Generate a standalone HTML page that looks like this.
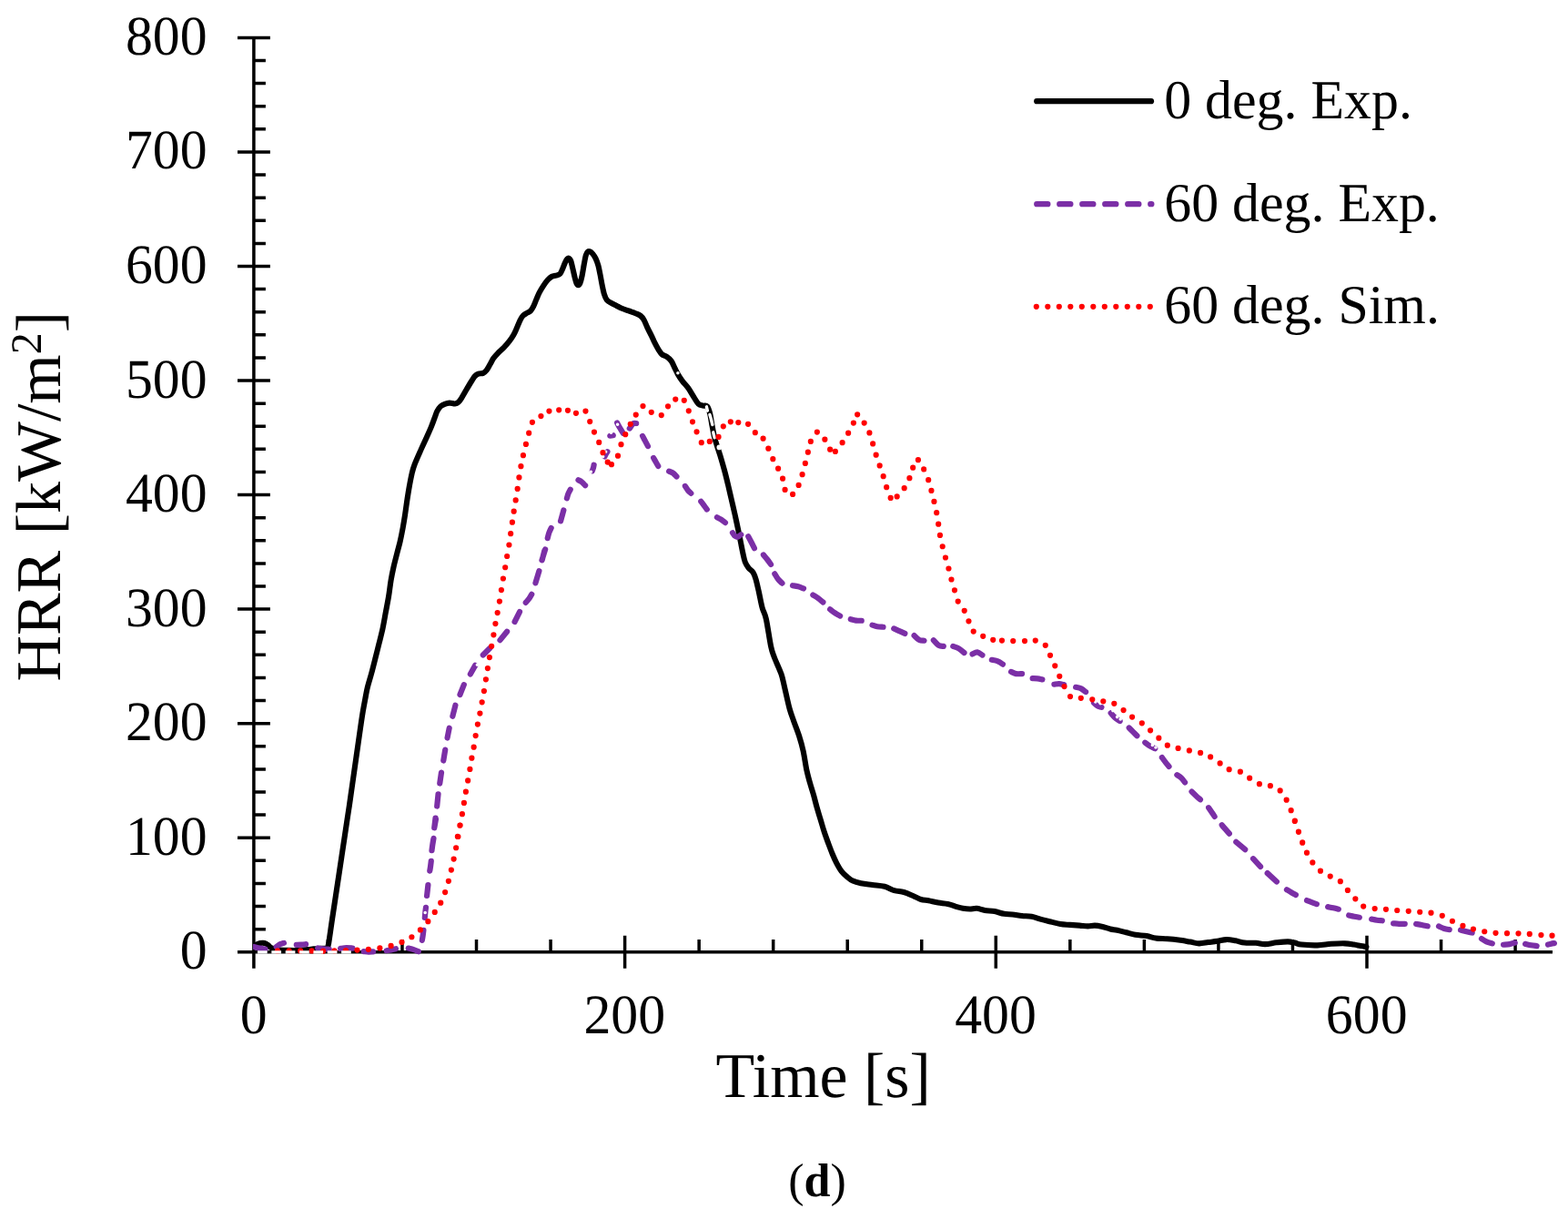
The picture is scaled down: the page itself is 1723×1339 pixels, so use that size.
<!DOCTYPE html>
<html lang="en">
<head>
<meta charset="utf-8">
<title>HRR vs Time (d)</title>
<style>
html,body{margin:0;padding:0;background:#fff;}
body{width:1723px;height:1339px;overflow:hidden;}
svg{display:block;}
text{font-family:"Liberation Serif","DejaVu Serif",serif;fill:#000;text-rendering:geometricPrecision;}
.tick{font-size:61.4px;}
.title{font-size:70px;}
.leg{font-size:60.6px;}
.cap{font-size:52px;}
</style>
</head>
<body>
<svg width="1723" height="1339" viewBox="0 0 1723 1339">
<rect x="0" y="0" width="1723" height="1339" fill="#fff"/>
<g id="axes" fill="none" stroke="#000" stroke-width="3.5" stroke-linecap="butt">
<path d="M278.9 41.4 V1063.8M261 1045.75 H1706M278.9 1020.64 H291.9M278.9 995.53 H291.9M278.9 970.42 H291.9M278.9 945.32 H291.9M261 920.21 H296.9M278.9 895.1 H291.9M278.9 869.99 H291.9M278.9 844.88 H291.9M278.9 819.77 H291.9M261 794.66 H296.9M278.9 769.55 H291.9M278.9 744.44 H291.9M278.9 719.34 H291.9M278.9 694.23 H291.9M261 669.12 H296.9M278.9 644.01 H291.9M278.9 618.9 H291.9M278.9 593.79 H291.9M278.9 568.68 H291.9M261 543.58 H296.9M278.9 518.47 H291.9M278.9 493.36 H291.9M278.9 468.25 H291.9M278.9 443.14 H291.9M261 418.03 H296.9M278.9 392.92 H291.9M278.9 367.81 H291.9M278.9 342.71 H291.9M278.9 317.6 H291.9M261 292.49 H296.9M278.9 267.38 H291.9M278.9 242.27 H291.9M278.9 217.16 H291.9M278.9 192.05 H291.9M261 166.94 H296.9M278.9 141.84 H291.9M278.9 116.73 H291.9M278.9 91.62 H291.9M278.9 66.51 H291.9M261 41.4 H296.9M360.44 1032.1 V1045.75M441.98 1032.1 V1045.75M523.52 1032.1 V1045.75M605.06 1032.1 V1045.75M686.6 1027.8 V1063.8M768.14 1032.1 V1045.75M849.68 1032.1 V1045.75M931.22 1032.1 V1045.75M1012.76 1032.1 V1045.75M1094.3 1027.8 V1063.8M1175.84 1032.1 V1045.75M1257.38 1032.1 V1045.75M1338.92 1032.1 V1045.75M1420.46 1032.1 V1045.75M1502 1027.8 V1063.8M1583.54 1032.1 V1045.75M1665.08 1032.1 V1045.75"/>
</g>
<g id="ylabels" class="tick" text-anchor="end">
<text transform="translate(227.6 1064.25) scale(.974 1)">0</text>
<text transform="translate(227.6 938.71) scale(.974 1)">100</text>
<text transform="translate(227.6 813.16) scale(.974 1)">200</text>
<text transform="translate(227.6 687.62) scale(.974 1)">300</text>
<text transform="translate(227.6 562.08) scale(.974 1)">400</text>
<text transform="translate(227.6 436.53) scale(.974 1)">500</text>
<text transform="translate(227.6 310.99) scale(.974 1)">600</text>
<text transform="translate(227.6 185.44) scale(.974 1)">700</text>
<text transform="translate(227.6 59.9) scale(.974 1)">800</text>
</g>
<g id="xlabels" class="tick" text-anchor="middle">
<text transform="translate(278.6 1134.7) scale(.974 1)">0</text>
<text transform="translate(686.3 1134.7) scale(.974 1)">200</text>
<text transform="translate(1094 1134.7) scale(.974 1)">400</text>
<text transform="translate(1501.7 1134.7) scale(.974 1)">600</text>
</g>
<text class="title" text-anchor="middle" transform="translate(904.7 1204.5) scale(.998 1)">Time [s]</text>
<text class="title" transform="translate(66.3 748.6) rotate(-90) scale(.999 1)">HRR [kW/m<tspan font-size="48px" dy="-21">2</tspan><tspan dy="21">]</tspan></text>
<text class="cap" text-anchor="middle" x="898" y="1313.9">(<tspan font-weight="bold">d</tspan>)</text>
<clipPath id="plot"><rect x="277.9" y="0" width="1445.1" height="1339"/></clipPath>
<g id="series" fill="none" stroke-linecap="round" stroke-linejoin="round" clip-path="url(#plot)">
<path id="s-black" stroke="#000" stroke-width="6.1" d="M279.32 1039.5C279.87 1039.12 281.53 1037.81 282.63 1037.23C283.74 1036.65 284.9 1036.28 285.95 1036.02C287.01 1035.77 287.97 1035.65 288.97 1035.72C289.98 1035.8 290.98 1036.02 291.99 1036.48C293 1036.93 294.05 1037.68 295.01 1038.44C295.96 1039.19 296.01 1040.2 297.72 1041C299.44 1041.81 302 1042.79 305.27 1043.27C308.54 1043.75 313.57 1043.77 317.34 1043.87C321.11 1043.97 324.38 1044 327.9 1043.87C331.43 1043.75 335.7 1043.37 338.47 1043.12C341.23 1042.87 342.24 1042.56 344.5 1042.36C346.77 1042.16 349.79 1042.04 352.05 1041.91C354.31 1041.78 356.83 1041.73 358.08 1041.61C359.34 1041.48 359.09 1042.06 359.59 1041.15C360.1 1040.25 360.24 1041.28 361.13 1036.17C362.01 1031.06 363.64 1018.94 364.9 1010.52C366.16 1002.09 367.41 993.92 368.67 985.62C369.93 977.32 371.06 969.9 372.44 960.72C373.83 951.54 375.46 940.6 376.97 930.54C378.48 920.48 380.36 907.92 381.5 900.36C382.64 892.8 383.01 890.62 383.82 885.17C384.62 879.72 385.48 873.5 386.32 867.66C387.15 861.82 387.99 855.99 388.82 850.15C389.65 844.31 390.49 838.47 391.32 832.64C392.15 826.8 392.99 820.96 393.82 815.13C394.66 809.29 395.49 803.25 396.32 797.62C397.16 791.99 397.99 786.36 398.82 781.36C399.66 776.36 400.49 771.98 401.33 767.6C402.16 763.22 402.7 759.68 403.83 755.09C404.95 750.51 406.62 745.5 408.08 740.08C409.54 734.66 411.21 727.99 412.58 722.57C413.96 717.15 415 712.99 416.34 707.57C417.67 702.15 419.34 695.89 420.59 690.06C421.84 684.22 422.76 678.38 423.84 672.55C424.92 666.71 426.13 660.87 427.09 655.03C428.05 649.2 428.68 642.94 429.59 637.52C430.51 632.1 431.47 627.52 432.59 622.52C433.72 617.51 435.18 612.09 436.35 607.51C437.51 602.92 438.56 599.55 439.6 595C440.64 590.45 441.68 585.16 442.6 580.19C443.52 575.22 444.27 570.6 445.1 565.18C445.94 559.76 446.77 553.09 447.6 547.67C448.44 542.25 449.27 537.24 450.1 532.66C450.94 528.07 451.69 523.9 452.61 520.15C453.52 516.4 453.94 514.52 455.61 510.15C457.28 505.77 460.4 498.89 462.61 493.89C464.82 488.88 466.99 484.3 468.87 480.13C470.74 475.96 472.41 472.42 473.87 468.87C475.33 465.33 476.54 461.74 477.62 458.87C478.7 455.99 479.28 453.73 480.37 451.64C481.46 449.56 482.76 447.67 484.14 446.36C485.53 445.05 487.04 444.42 488.67 443.8C490.31 443.17 492.07 442.64 493.95 442.59C495.84 442.54 498.35 443.62 499.99 443.49C501.62 443.37 502.5 442.99 503.76 441.83C505.02 440.68 506.02 438.94 507.53 436.55C509.04 434.16 511.05 430.47 512.81 427.5C514.58 424.53 516.59 421.14 518.1 418.75C519.61 416.36 520.61 414.52 521.87 413.16C523.13 411.8 524.13 411.15 525.64 410.6C527.15 410.04 529.41 410.5 530.92 409.84C532.43 409.19 533.44 408.26 534.7 406.67C535.95 405.09 537.21 402.52 538.47 400.34C539.73 398.15 540.86 395.56 542.24 393.55C543.62 391.53 544.88 390.2 546.77 388.26C548.65 386.33 551.42 384.14 553.56 381.93C555.7 379.71 557.83 377.25 559.59 374.99C561.35 372.72 562.74 370.79 564.12 368.35C565.5 365.91 566.69 363.06 567.89 360.35C569.1 357.63 570.23 354.31 571.36 352.05C572.5 349.79 573.38 348.15 574.68 346.77C575.99 345.38 577.83 344.63 579.21 343.75C580.59 342.87 581.85 342.62 582.98 341.49C584.11 340.35 584.92 339.1 586 336.96C587.08 334.82 588.34 331.3 589.47 328.66C590.6 326.02 591.48 323.63 592.79 321.11C594.1 318.6 595.81 315.83 597.32 313.57C598.83 311.31 600.34 309.17 601.85 307.53C603.35 305.9 604.86 304.57 606.37 303.76C607.88 302.96 609.39 303.21 610.9 302.7C612.41 302.2 614.17 302.08 615.43 300.74C616.68 299.41 617.49 296.84 618.44 294.71C619.4 292.57 620.36 289.63 621.16 287.92C621.97 286.21 622.59 285.12 623.27 284.45C623.95 283.77 624.58 283.52 625.24 283.84C625.89 284.17 626.52 284.6 627.2 286.41C627.88 288.22 628.58 291.69 629.31 294.71C630.04 297.72 630.87 301.75 631.57 304.52C632.28 307.28 632.91 309.87 633.53 311.31C634.16 312.74 634.72 313.12 635.35 313.12C635.97 313.12 636.6 312.99 637.31 311.31C638.01 309.62 638.82 306.53 639.57 303.01C640.33 299.49 641.13 293.95 641.83 290.18C642.54 286.41 643.12 282.63 643.8 280.37C644.47 278.11 645.15 277.28 645.91 276.6C646.66 275.92 647.42 275.92 648.32 276.3C649.23 276.67 650.28 277.55 651.34 278.86C652.4 280.17 653.65 282.01 654.66 284.14C655.67 286.28 656.57 288.8 657.38 291.69C658.18 294.58 658.76 297.85 659.49 301.5C660.22 305.14 661 309.92 661.75 313.57C662.51 317.22 663.19 320.74 664.02 323.38C664.85 326.02 665.53 327.85 666.73 329.41C667.94 330.97 669.5 331.68 671.26 332.73C673.02 333.79 675.28 334.75 677.3 335.75C679.31 336.76 681.07 337.81 683.33 338.77C685.59 339.73 688.36 340.58 690.88 341.49C693.39 342.39 696.28 343.32 698.42 344.2C700.56 345.08 702.19 345.59 703.7 346.77C705.21 347.95 706.22 349.16 707.48 351.29C708.73 353.43 709.86 356.7 711.25 359.59C712.63 362.49 714.52 366.07 715.77 368.65C717.03 371.23 717.43 372.45 718.76 375.07C720.09 377.68 722.3 381.95 723.76 384.32C725.22 386.7 726.06 388.07 727.52 389.33C728.98 390.58 730.85 390.66 732.52 391.83C734.19 392.99 736.06 394.33 737.52 396.33C738.98 398.33 740.02 401.33 741.27 403.83C742.52 406.34 743.57 408.84 745.03 411.34C746.49 413.84 748.15 416.34 750.03 418.84C751.91 421.34 754.2 423.43 756.28 426.35C758.37 429.27 760.66 433.43 762.54 436.35C764.41 439.27 765.87 442.31 767.54 443.86C769.21 445.4 770.96 445.19 772.54 445.61C774.13 446.02 775.79 444.98 777.04 446.36C778.3 447.73 779.13 450.32 780.05 453.86C780.96 457.41 781.71 463.24 782.55 467.62C783.38 472 784.13 476.38 785.05 480.13C785.97 483.88 787.01 486.8 788.05 490.13C789.09 493.47 789.93 495.55 791.3 500.14C792.68 504.73 794.85 512.23 796.31 517.65C797.77 523.07 798.81 527.45 800.06 532.66C801.31 537.87 802.56 543.5 803.81 548.92C805.06 554.34 806.31 559.55 807.56 565.18C808.81 570.81 810.27 577.72 811.31 582.69C812.36 587.66 812.98 590.86 813.82 595C814.65 599.14 815.48 603.76 816.32 607.51C817.15 611.26 817.78 614.8 818.82 617.51C819.86 620.22 821.11 621.89 822.57 623.77C824.03 625.64 826.24 626.69 827.57 628.77C828.91 630.85 829.53 632.73 830.58 636.27C831.62 639.82 832.66 644.82 833.83 650.03C835 655.24 836.24 662.55 837.58 667.54C838.92 672.54 840.27 672.89 841.87 680C843.46 687.11 845.64 703.14 847.15 710.18C848.66 717.22 849.04 717.22 850.92 722.25C852.81 727.28 856.58 734.83 858.47 740.36C860.35 745.89 860.73 749.16 862.24 755.45C863.75 761.74 865.89 772.05 867.52 778.08C869.16 784.12 870.29 786.64 872.05 791.67C873.81 796.7 876.32 802.73 878.08 808.26C879.85 813.8 881.23 818.58 882.61 824.86C883.99 831.15 885.15 840.13 886.38 845.99C887.62 851.85 888.75 855.42 890.03 860C891.3 864.58 892.79 868.96 894.06 873.44C895.33 877.93 896.37 882.41 897.64 886.89C898.91 891.37 900.33 895.85 901.68 900.33C903.02 904.81 904.29 909.45 905.71 913.78C907.13 918.11 908.7 922.29 910.19 926.33C911.69 930.36 913.18 934.39 914.67 937.98C916.17 941.56 917.51 944.7 919.15 947.84C920.8 950.97 922.59 954.26 924.53 956.8C926.47 959.34 928.72 961.28 930.81 963.07C932.9 964.87 934.54 966.36 937.08 967.55C939.62 968.75 942.46 969.5 946.04 970.24C949.63 970.99 954.26 971.44 958.59 972.04C962.92 972.63 968.03 972.81 972.04 973.83C976.04 974.85 979.11 977.14 982.63 978.17C986.16 979.19 989.68 978.97 993.2 979.98C996.72 980.98 1000.62 982.87 1003.76 984.2C1006.9 985.53 1009.29 987.12 1012.06 987.97C1014.83 988.83 1017.22 988.73 1020.36 989.33C1023.5 989.94 1027.4 990.99 1030.92 991.6C1034.44 992.2 1038.22 992.25 1041.49 992.95C1044.76 993.66 1047.77 995.02 1050.54 995.82C1053.31 996.63 1055.57 997.33 1058.08 997.78C1060.6 998.24 1063.11 998.54 1065.63 998.54C1068.14 998.54 1070.41 997.56 1073.17 997.78C1075.94 998.01 1078.96 999.34 1082.23 999.9C1085.5 1000.45 1089.27 1000.45 1092.79 1001.1C1096.31 1001.76 1100.09 1003.27 1103.35 1003.82C1106.62 1004.37 1109.14 1004.07 1112.41 1004.42C1115.68 1004.77 1119.45 1005.53 1122.97 1005.93C1126.49 1006.33 1130.01 1006.18 1133.53 1006.84C1137.06 1007.49 1140.58 1008.92 1144.1 1009.85C1147.62 1010.79 1151.14 1011.57 1154.66 1012.42C1158.18 1013.28 1161.7 1014.41 1165.22 1014.99C1168.74 1015.56 1172.27 1015.61 1175.79 1015.89C1179.31 1016.17 1183.08 1016.39 1186.35 1016.65C1189.62 1016.9 1192.64 1017.4 1195.4 1017.4C1198.17 1017.4 1200.43 1016.6 1202.95 1016.65C1205.46 1016.7 1207.65 1017.07 1210.49 1017.7C1213.34 1018.33 1217.16 1019.73 1220 1020.42C1222.84 1021.1 1224.63 1021.17 1227.56 1021.82C1230.48 1022.47 1234.23 1023.49 1237.56 1024.32C1240.9 1025.16 1243.82 1026.2 1247.57 1026.82C1251.32 1027.45 1256.32 1027.45 1260.08 1028.07C1263.83 1028.7 1266.33 1030.03 1270.08 1030.58C1273.83 1031.12 1278.42 1030.99 1282.59 1031.33C1286.76 1031.66 1290.93 1032.04 1295.1 1032.58C1299.27 1033.12 1303.85 1033.95 1307.6 1034.58C1311.36 1035.2 1314.27 1036.25 1317.61 1036.33C1320.94 1036.41 1324.28 1035.5 1327.61 1035.08C1330.95 1034.66 1334.29 1034.33 1337.62 1033.83C1340.96 1033.33 1344.29 1032.16 1347.63 1032.08C1350.96 1031.99 1354.3 1032.74 1357.63 1033.33C1360.97 1033.91 1363.89 1035.16 1367.64 1035.58C1371.39 1036 1376.39 1035.58 1380.15 1035.83C1383.9 1036.08 1386.4 1037.16 1390.15 1037.08C1393.9 1037 1398.49 1035.79 1402.66 1035.33C1406.83 1034.87 1411.83 1034.29 1415.17 1034.33C1418.5 1034.37 1420.17 1035.04 1422.67 1035.58C1425.17 1036.12 1426.01 1037.12 1430.17 1037.58C1434.34 1038.04 1442.26 1038.46 1447.68 1038.33C1453.1 1038.21 1457.69 1037.16 1462.69 1036.83C1467.7 1036.5 1473.53 1036.2 1477.7 1036.33C1481.87 1036.45 1484.79 1037.12 1487.71 1037.58C1490.63 1038.04 1492.92 1038.66 1495.21 1039.08C1497.51 1039.5 1500.42 1039.91 1501.47 1040.08"/>
<path id="s-purple" stroke="#7b2fa6" stroke-width="6.2" d="M279.28 1040.02C280.34 1040.28 283.61 1041.17 285.65 1041.61C287.7 1042.05 290.57 1042.48 291.56 1042.66M303.74 1040.04C304.45 1039.54 306.62 1037.78 307.99 1037.08C309.35 1036.38 311.29 1036.05 311.96 1035.84M325.79 1037.94C326.64 1037.9 329.21 1037.81 330.92 1037.68C332.64 1037.56 335.21 1037.26 336.06 1037.17M349.17 1041.42C350.15 1041.56 352.98 1041.99 355.07 1042.21C357.16 1042.43 360.61 1042.65 361.71 1042.74M374.07 1041.94C375.17 1041.78 378.5 1041.07 380.72 1041C382.94 1040.94 386.26 1041.45 387.37 1041.54M399.73 1045.15C400.58 1045.21 403.15 1045.49 404.86 1045.53C406.58 1045.57 409.14 1045.42 410 1045.4M424.62 1044.19C425.47 1044.06 428.04 1043.74 429.76 1043.42C431.48 1043.1 434.06 1042.45 434.92 1042.26M448.74 1041.54C449.73 1041.8 452.81 1042.51 454.66 1043.12C456.51 1043.73 458.99 1044.85 459.86 1045.2M463.85 1032.87C464.01 1031.89 464.51 1028.81 464.77 1026.97C465.03 1025.13 465.31 1022.68 465.41 1021.83M466.81 1007.97C466.9 1006.98 467.14 1003.91 467.34 1002.07C467.53 1000.23 467.87 997.79 467.98 996.93M469.09 984C469.2 983.01 469.52 980.02 469.74 978.05C469.96 976.08 470.28 973.16 470.39 972.19M472.26 956.64C472.4 955.75 472.87 953.07 473.12 951.28C473.37 949.49 473.65 946.81 473.76 945.92M474.49 934.13C474.63 933.03 475.04 929.72 475.37 927.52C475.7 925.31 476.29 922 476.47 920.9M477.28 909.12C477.42 908.35 477.84 906.08 478.12 904.5C478.4 902.92 478.83 900.45 478.97 899.64M478.51 898.57 L477.23 909.29M481.53 872.31 L480.21 885.52M485 848.54 L483.25 860.51M489.23 823.52 L487.27 835.5M493.7 799.75 L491.56 810.49M500.41 774.73 L497.35 786.74M509.81 752.18 L505.47 763.01M522.21 730.87 L516.83 740.55M538.27 711.95 L530.79 719.44M557.1 693.76 L549.48 703.12M571.02 672.1 L565.57 683M584.23 652.81C583.76 653.6 582.51 656.03 581.43 657.54C580.35 659.04 578.37 661.13 577.76 661.85M592.43 627.13 L588.44 640.41M599.18 603.36 L595.45 615.4M595.68 615.3 L598.26 604.97M601.73 591.16C601.99 590.17 602.65 587.09 603.31 585.24C603.96 583.38 605.26 580.89 605.66 580.02M616.07 572.3 L619.36 560.45M622.89 547.4C623.17 546.49 623.94 543.54 624.59 541.93C625.23 540.32 626.38 538.44 626.74 537.75M635.48 527.28C636.1 527.63 637.95 528.4 639.22 529.4C640.49 530.4 642.46 532.64 643.11 533.29M650.82 517.23C651.03 516.62 651.75 514.65 652.05 513.56C652.35 512.46 652.53 511.15 652.63 510.67M664.51 501.43C664.75 500.94 665.45 499.34 665.93 498.47C666.41 497.6 667.16 496.58 667.4 496.2M670.29 478.72 L673.79 478.22M678.14 464.55C678.69 465.55 680.37 468.67 681.47 470.55C682.58 472.43 684.22 474.95 684.77 475.82M691.82 470.59C692.49 469.7 694.59 466.2 695.81 465.27C697.03 464.34 698.58 465.07 699.14 465.03M706.04 478.89C706.55 479.84 708.1 482.71 709.09 484.59C710.08 486.46 711.51 489.2 711.99 490.13M718.14 503.02C718.57 503.77 719.85 506.02 720.71 507.52C721.57 509.02 722.85 511.27 723.28 512.02M735.12 517.68C735.86 518 738.18 518.63 739.57 519.59C740.96 520.56 742.81 522.84 743.46 523.48M752.89 533.93C753.39 534.68 754.8 537.13 755.87 538.46C756.94 539.78 758.73 541.32 759.31 541.89M770.29 550.79C770.83 551.5 772.44 553.59 773.52 555.06C774.6 556.52 776.23 558.85 776.77 559.6M787.9 568.29C788.65 568.68 790.88 569.63 792.39 570.6C793.89 571.57 796.19 573.53 796.95 574.12M804.98 585.21C805.4 585.8 806.56 587.95 807.48 588.71C808.39 589.46 809.36 590.01 810.49 589.76C811.63 589.52 813.64 587.66 814.27 587.24M822.25 589.29C822.8 590.32 824.46 593.35 825.57 595.5C826.69 597.65 828.36 601.08 828.92 602.2M838.9 609.45C839.6 610.3 841.72 612.75 843.08 614.51C844.44 616.28 846.4 619.11 847.06 620.03M851.32 630.28C851.95 631.28 853.73 634.55 855.09 636.27C856.45 638 858.73 639.91 859.46 640.64M870.98 643.19C872 643.37 875.1 643.73 877.1 644.28C879.11 644.83 882.03 646.1 883.01 646.47M893.37 653.52C894.29 654.11 897.02 655.71 898.87 657.04C900.71 658.36 903.49 660.74 904.42 661.48M912.1 669.32C913.02 669.98 915.79 672.08 917.63 673.3C919.46 674.51 922.19 676.04 923.11 676.58M934.76 680.24C935.74 680.46 938.64 681.3 940.64 681.55C942.64 681.8 945.73 681.73 946.74 681.77M958.51 686.58C959.41 686.87 961.9 687.94 963.9 688.3C965.9 688.67 969.41 688.67 970.51 688.74M982.24 690.42C983.22 690.86 986.15 692.14 988.17 693.06C990.19 693.98 993.32 695.45 994.36 695.93M1004.6 698.15C1005.53 698.97 1008.36 702.14 1010.18 703.06C1012 703.99 1014.65 703.6 1015.54 703.71M1025.83 703.2C1026.76 704.14 1029.61 707.7 1031.44 708.82C1033.27 709.93 1035.92 709.71 1036.81 709.89M1047.29 709.9C1048.4 710.35 1051.92 711.38 1053.96 712.57C1055.99 713.75 1058.58 716.27 1059.51 717.01M1068.55 718.49C1069.45 718.13 1072.15 716.13 1073.97 716.32C1075.78 716.51 1078.54 719.06 1079.45 719.61M1089.85 724.78C1090.96 725.04 1094.46 725.52 1096.48 726.33C1098.5 727.13 1101.05 729.07 1101.96 729.62M1111.07 737.92C1111.98 738.28 1114.49 739.72 1116.49 740.08C1118.5 740.45 1122 740.08 1123.1 740.08M1134.65 745.12C1135.54 745.16 1138.22 745.12 1140.01 745.34C1141.79 745.55 1144.48 746.23 1145.38 746.41M1158.41 751.73C1159.3 751.63 1161.98 751.02 1163.77 751.09C1165.56 751.16 1168.25 751.99 1169.14 752.16M1182.15 754.82C1183.13 755.07 1186.22 755.47 1188.03 756.34C1189.85 757.22 1192.23 759.44 1193.06 760.06M1201.98 771.94C1202.7 772.55 1204.88 774.79 1206.29 775.61C1207.7 776.42 1209.75 776.64 1210.44 776.85M1220.66 783.28C1221.39 784.08 1223.4 786.64 1225.06 788.11C1226.71 789.58 1229.66 791.43 1230.58 792.09M1240.7 799.5C1241.43 800.23 1243.61 802.42 1245.07 803.87C1246.52 805.33 1248.71 807.51 1249.43 808.24M1258.3 815.65C1259.23 816.32 1262 818.53 1263.83 819.63C1265.66 820.73 1268.36 821.81 1269.27 822.24M1276.87 832.11C1277.49 832.95 1279.31 835.5 1280.59 837.14C1281.86 838.78 1283.86 841.15 1284.52 841.95M1293.34 851.16C1294.13 851.7 1296.65 853.02 1298.1 854.4C1299.55 855.78 1301.39 858.6 1302.05 859.45M1309.51 869.53C1310.27 870.26 1312.53 872.45 1314.11 873.91C1315.68 875.38 1318.14 877.58 1318.94 878.31M1328.12 887.16C1328.66 887.96 1330.28 890.3 1331.37 891.92C1332.45 893.55 1334.08 896.09 1334.63 896.92M1343.23 907.1C1343.88 907.82 1345.86 909.99 1347.13 911.43C1348.39 912.88 1350.18 915.03 1350.8 915.75M1342.71 906.19 L1350.79 915.58M1358.32 924.84 L1368.2 933.19M1377 943.19 L1385.04 951.87M1392.7 959.16 L1402.9 968.5M1413.93 977.25C1414.76 977.75 1417.26 979.28 1418.92 980.24C1420.58 981.21 1423.06 982.59 1423.89 983.06M1436.07 989.03C1436.95 989.39 1439.58 990.49 1441.38 991.19C1443.18 991.88 1445.95 992.85 1446.87 993.18M1459.15 996.16C1460.13 996.36 1463.04 996.91 1464.99 997.33C1466.94 997.75 1469.86 998.44 1470.83 998.67M1482.18 1005.4C1483.16 1005.62 1486.08 1006.35 1488.03 1006.74C1489.97 1007.13 1492.89 1007.57 1493.86 1007.74M1507.15 1009.6C1508.12 1009.8 1511.04 1010.49 1512.98 1010.77C1514.93 1011.05 1517.83 1011.18 1518.8 1011.27M1531.16 1014.3C1532.19 1014.38 1535.26 1014.72 1537.36 1014.8C1539.46 1014.88 1542.69 1014.8 1543.76 1014.8M1556.1 1014.94C1557.14 1015.11 1560.21 1015.56 1562.32 1015.95C1564.42 1016.34 1567.66 1017.08 1568.73 1017.3M1581 1017.46C1581.98 1017.88 1584.94 1019.37 1586.89 1019.98C1588.85 1020.6 1591.76 1020.96 1592.73 1021.15M1605.04 1021.56C1606.11 1021.84 1609.36 1022.74 1611.46 1023.25C1613.57 1023.75 1616.65 1024.37 1617.69 1024.59M1627.97 1031.02C1628.87 1031.58 1631.38 1033.48 1633.35 1034.38C1635.32 1035.28 1638.71 1036.07 1639.79 1036.41M1652.1 1037.75C1653.23 1037.63 1656.78 1037.43 1658.88 1037.07C1660.99 1036.7 1663.75 1035.82 1664.73 1035.56M1676.08 1036.87C1677.15 1037.09 1680.39 1037.85 1682.49 1038.22C1684.6 1038.58 1687.67 1038.92 1688.7 1039.06M1701.02 1037.6C1701.58 1037.45 1703.23 1036.94 1704.38 1036.68C1705.53 1036.43 1707.32 1036.17 1707.91 1036.07"/>
<path id="s-white" stroke="#fff" stroke-width="3.4" d="M776.4 446.8 L777.4 451.2M779.9 455.5C780.17 456.42 781 459.17 781.5 461C782 462.83 782.67 465.58 782.9 466.5M783.7 474.8 L785.2 480.8"/>
<path id="s-white-dots" stroke="#fff" stroke-width="3.6" d="M649.3 518.2h0M662.6 501.6h0M665.6 496.2h0M671.5 475.2h0M678.6 466.2h0M1203.8 770.9h0M1209.2 772.8h0M1222.9 780.6h0M1227.6 787.6h0M1231.2 789.9h0M1266.4 818.4h0M1270 821h0M467.2 1002.5h0M524.4 730.2h0M744.9 409.7h0"/>
<path id="s-white-dots2" stroke="#fff" stroke-width="5.6" d="M790.3 491.4h0"/>
<path id="s-red" stroke="#ff0000" stroke-width="6.2" d="M304.97 1044.47h0M317.64 1044.47h0M330.17 1044.47h0M342.54 1044.47h0M355.07 1044.63h0M367.44 1044.47h0M379.97 1044.02h0M392.49 1043.57h0M404.86 1042.81h0M417.39 1041.46h0M429.61 1038.89h0M441.53 1034.97h0M452.4 1029.23h0M461.9 1021.39h0M470.35 1012.18h0M477.75 1001.92h0M484.24 991.66h0M489.13 980.05h0M492.88 967.79h0M495.88 955.53h0M498.63 943.53h0M501.13 931.27h0M503.39 919.01h0M505.64 906.5h0M502.89 918.94h0M505.39 906.68h0M507.89 894.17h0M509.89 881.92h0M511.89 869.66h0M514.14 857.4h0M516.39 844.9h0M518.39 832.64h0M520.65 820.63h0M522.65 808.12h0M524.9 795.62h0M527.4 783.61h0M529.65 771.35h0M531.9 759.1h0M533.9 746.34h0M535.9 734.08h0M537.91 722.07h0M540.16 709.82h0M542.41 697.31h0M544.41 685.05h0M546.66 673.05h0M548.91 660.54h0M550.91 648.03h0M552.91 635.52h0M555.17 623.27h0M557.17 611.01h0M559.42 598.5h0M561.17 586.19h0M562.92 573.68h0M564.67 561.68h0M566.67 549.42h0M568.67 536.91h0M570.42 524.4h0M572.43 512.15h0M574.93 500.14h0M577.93 487.88h0M581.18 475.63h0M584.93 463.87h0M594.44 457.11h0M603.44 451.61h0M614.2 450.36h0M623.96 450.86h0M632.96 453.86h0M643.47 451.61h0M648.22 463.12h0M652.97 474.62h0M658.23 485.88h0M662.48 497.14h0M667.73 507.64h0M671.98 510.15h0M678.99 500.64h0M682.49 488.13h0M687.24 477.13h0M692.75 465.87h0M698.75 455.61h0M706.5 446.11h0M715.76 452.86h0M726.77 456.11h0M734.02 446.36h0M742.27 438.6h0M751.78 439.85h0M756.78 451.36h0M761.04 463.37h0M765.54 474.37h0M770.79 486.13h0M779.8 484.88h0M789.55 479.88h0M794.81 468.37h0M802.81 463.37h0M811.31 464.12h0M822.07 465.87h0M829.83 475.13h0M838.58 481.63h0M844.33 492.64h0M849.34 504.14h0M855.09 514.65h0M860.09 525.65h0M862.59 537.91h0M871.1 542.91h0M877.6 532.91h0M881.61 521.15h0M884.86 508.89h0M887.86 496.64h0M890.86 484.88h0M897.87 474.62h0M906.37 482.63h0M912.12 493.64h0M917.88 495.89h0M925.63 486.13h0M932.13 475.63h0M937.89 464.62h0M942.14 455.36h0M949.65 464.62h0M955.4 475.38h0M959.15 487.38h0M962.65 499.64h0M966.66 511.4h0M970.66 523.15h0M974.16 535.16h0M978.66 546.92h0M985.67 545.42h0M993.67 536.16h0M999.42 525.15h0M1003.18 513.65h0M1008.93 505.14h0M1015.18 515.4h0M1020.19 527.16h0M1023.44 538.91h0M1026.44 550.92h0M1029.19 563.18h0M1031.19 575.68h0M1032.94 587.94h0M1035.7 600.25h0M1038.95 612.51h0M1042.45 624.52h0M1045.45 636.52h0M1048.95 648.28h0M1052.71 660.54h0M1059.71 670.79h0M1064.46 682.3h0M1069.71 693.56h0M1080.22 698.81h0M1091.23 702.81h0M1100.98 703.56h0M1113.24 704.06h0M1126 704.06h0M1137.75 703.56h0M1148.76 708.82h0M1154.01 719.82h0M1159.27 731.33h0M1164.27 742.84h0M1169.52 754.09h0M1176.03 765.1h0M1187.78 766.85h0M1200.29 768.35h0M1212.3 770.35h0M1224.3 772.85h0M1234.56 780.11h0M1244.07 787.61h0M1254.82 794.37h0M1264.08 802.37h0M1273.33 810.63h0M1282.84 818.63h0M1294.6 821.88h0M1306.85 824.38h0M1319.11 826.88h0M1330.12 831.39h0M1340.62 838.39h0M1350.63 845.15h0M1362.89 847.65h0M1373.14 854.65h0M1383.9 861.15h0M1395.9 863.16h0M1406.66 868.41h0M1413.66 878.66h0M1418.67 890.17h0M1422.92 901.68h0M1426.92 913.69h0M1431.18 925.69h0M1422.76 901.92h0M1426.98 913.82h0M1431.2 925.34h0M1436 936.67h0M1442.34 947.42h0M1450.98 956.63h0M1461.73 962.58h0M1472.86 968.15h0M1480.92 977.94h0M1489.37 987.35h0M1498.2 995.6h0M1510.68 998.1h0M1522.97 998.87h0M1535.25 1000.02h0M1547.73 1000.79h0M1560.21 1001.75h0M1572.49 1002.71h0M1584.78 1005.78h0M1595.91 1011.73h0M1607.43 1016.91h0M1618.95 1020.56h0M1631.24 1023.25h0M1643.52 1024.78h0M1656 1025.17h0M1668.48 1025.36h0M1680.77 1025.93h0M1693.44 1027.09h0M1705.53 1027.66h0"/>
<path id="s-white-axis" stroke="#fff" stroke-width="3.2" stroke-linecap="butt" stroke-dasharray="10.7 4.65" d="M283 1045.8H386"/>
</g>
<g id="legend" fill="none" stroke-linecap="round">
<path stroke="#000" stroke-width="6.2" d="M1139.2 111.2H1265"/>
<path stroke="#7b2fa6" stroke-width="6.2" stroke-dasharray="12.2 12.8" d="M1139.2 224.2H1265.4"/>
<path stroke="#ff0000" stroke-width="6.2" stroke-dasharray="0 12.5" d="M1138.8 336.8H1266"/>
</g>
<g class="leg">
<text transform="translate(1279.2 130.2) scale(.988 1)">0 deg. Exp.</text>
<text transform="translate(1279.2 242.6) scale(.988 1)">60 deg. Exp.</text>
<text transform="translate(1279.2 355) scale(.988 1)">60 deg. Sim.</text>
</g>
</svg>
</body>
</html>
